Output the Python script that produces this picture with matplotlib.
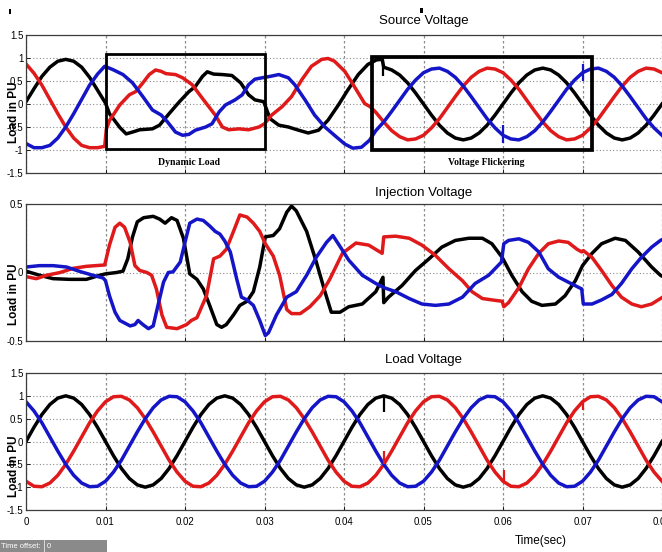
import numpy as np
import matplotlib
matplotlib.use('Agg')
import matplotlib.pyplot as plt
from matplotlib.patches import Rectangle

# ---------------------------------------------------------------
# data (time in s, value in PU)
# ---------------------------------------------------------------
x_ticks = [0, 0.01, 0.02, 0.03, 0.04, 0.05, 0.06, 0.07, 0.08, 0.09, 0.1]
# the last two ticks lie outside the cropped picture
x_tick_labels = ['0', '0.01', '0.02', '0.03', '0.04', '0.05', '0.06', '0.07', '0.08', '', '']
y_ticks_full = [-1.5, -1, -0.5, 0, 0.5, 1, 1.5]
y_labels_full = ['-1.5', '-1', '-0.5', '0', '0.5', '1', '1.5']
y_ticks_inj = [-0.5, 0, 0.5]
y_labels_inj = ['-0.5', '0', '0.5']

titles = ['Source Voltage', 'Injection Voltage', 'Load Voltage']

# samples on the 1 ms grid after the flicker starts (source) / whole load trace
t_tail = np.round(np.arange(0.046, 0.0805, 0.001), 4)
t_load = np.round(np.arange(0.0, 0.0805, 0.001), 4)

# --- Source voltage ---
src_black_t = [0.000, 0.001, 0.002, 0.003, 0.004, 0.005, 0.006, 0.007, 0.008, 0.009, 0.010,
               0.0105, 0.0118, 0.0126, 0.0134, 0.0143, 0.0159, 0.0168, 0.0180, 0.0193, 0.0205,
               0.0213, 0.0222, 0.0228, 0.0236, 0.0247, 0.0259, 0.0270, 0.0280, 0.0288, 0.0299,
               0.0307, 0.0318, 0.0330, 0.0343, 0.0355, 0.0368, 0.0380, 0.0393, 0.0405, 0.0418,
               0.0430, 0.0441, 0.0448, 0.0450] + list(t_tail)
src_black_v = [0.05, 0.33, 0.60, 0.80, 0.93, 0.97, 0.93, 0.80, 0.58, 0.30, 0.02,
               -0.21, -0.51, -0.65, -0.61, -0.56, -0.54, -0.46, -0.21, 0.05, 0.27,
               0.38, 0.60, 0.70, 0.65, 0.64, 0.62, 0.46, 0.20, 0.09, 0.05,
               -0.32, -0.46, -0.50, -0.57, -0.63, -0.57, -0.35, -0.02, 0.31, 0.64,
               0.86, 0.96, 0.97, 0.80,
               0.74, 0.63, 0.46, 0.24, 0.00, -0.24, -0.46, -0.63, -0.74, -0.78,
               -0.74, -0.63, -0.46, -0.24, 0.00, 0.24, 0.46, 0.63, 0.74, 0.78,
               0.74, 0.63, 0.46, 0.24, 0.00, -0.24, -0.46, -0.63, -0.74, -0.78,
               -0.74, -0.63, -0.46, -0.24, 0.00]

src_red_t = [0.000, 0.001, 0.002, 0.003, 0.004, 0.005, 0.006, 0.007, 0.008, 0.009,
             0.0099, 0.0101, 0.0105,
             0.0118, 0.0130, 0.0138, 0.0147, 0.0155, 0.0163, 0.0170, 0.0176, 0.0188, 0.0197,
             0.0209, 0.0222, 0.0230, 0.0238, 0.0247, 0.0255, 0.0268, 0.0280, 0.0293, 0.0300,
             0.0309, 0.0322, 0.0334, 0.0347, 0.0359, 0.0372, 0.0380, 0.0388, 0.0401, 0.0413,
             0.0426, 0.0433, 0.0440, 0.0450] + list(t_tail)
src_red_v = [0.87, 0.67, 0.41, 0.10, -0.21, -0.50, -0.74, -0.90, -0.95, -0.95,
             -0.92, -0.55, -0.36,
             -0.02, 0.20, 0.27, 0.46, 0.64, 0.74, 0.71, 0.66, 0.64, 0.57,
             0.42, 0.12, -0.06, -0.24, -0.50, -0.56, -0.54, -0.56, -0.50, -0.43,
             -0.24, -0.06, 0.16, 0.53, 0.82, 0.97, 0.99, 0.93, 0.71, 0.38,
             0.01, -0.06, -0.18, -0.39,
             -0.58, -0.71, -0.78, -0.76, -0.68, -0.52, -0.32, -0.08, 0.16, 0.39,
             0.58, 0.71, 0.78, 0.76, 0.68, 0.52, 0.32, 0.08, -0.16, -0.39,
             -0.58, -0.71, -0.78, -0.76, -0.68, -0.52, -0.32, -0.08, 0.16, 0.39,
             0.58, 0.71, 0.78, 0.76, 0.68]

src_blue_t = [0.000, 0.001, 0.002, 0.003, 0.004, 0.005, 0.006, 0.007, 0.008, 0.009,
              0.0099, 0.0109, 0.0122, 0.0134, 0.0147, 0.0159, 0.0170, 0.0178, 0.0188, 0.0197,
              0.0205, 0.0213, 0.0226, 0.0234, 0.0243, 0.0251, 0.0263, 0.0272, 0.0280, 0.0288,
              0.0297, 0.0307, 0.0318, 0.0330, 0.0338, 0.0351, 0.0363, 0.0376, 0.0388, 0.0401,
              0.0411, 0.0422, 0.0432, 0.0440, 0.0450] + list(t_tail)
src_blue_v = [-0.86, -0.95, -0.95, -0.90, -0.74, -0.50, -0.21, 0.10, 0.41, 0.65,
              0.82, 0.75, 0.64, 0.46, 0.16, -0.13, -0.24, -0.39, -0.61, -0.68,
              -0.66, -0.57, -0.50, -0.43, -0.17, -0.02, 0.09, 0.20, 0.42, 0.54,
              0.57, 0.60, 0.64, 0.57, 0.42, 0.09, -0.24, -0.50, -0.68, -0.87,
              -0.96, -0.94, -0.79, -0.58, -0.39,
              -0.16, 0.08, 0.32, 0.52, 0.68, 0.76, 0.78, 0.71, 0.58, 0.39,
              0.16, -0.08, -0.32, -0.52, -0.68, -0.76, -0.78, -0.71, -0.58, -0.39,
              -0.16, 0.08, 0.32, 0.52, 0.68, 0.76, 0.78, 0.71, 0.58, 0.39,
              0.16, -0.08, -0.32, -0.52, -0.68]

# short switching spikes on the source side
src_spike_t = [0.0449, 0.0600, 0.0700]
src_spike_lo = [0.60, -0.84, 0.50]
src_spike_hi = [0.97, -0.45, 0.86]
src_spike_phase = ['black', 'blue', 'blue']

# --- Injection voltage ---
inj_black_t = [0.0, 0.0017, 0.0034, 0.0055, 0.0076, 0.0093, 0.0100, 0.0114, 0.0122, 0.0128,
               0.0134, 0.0140, 0.0148, 0.0160, 0.0168, 0.0175, 0.0183, 0.0190, 0.0198, 0.0206,
               0.0215, 0.0223, 0.0231, 0.0240, 0.0246, 0.0252, 0.0261, 0.0269, 0.0278, 0.0286,
               0.0294, 0.0301, 0.0311, 0.0319, 0.0328, 0.0334, 0.0340, 0.0353, 0.0365, 0.0376,
               0.0384, 0.0395, 0.0406, 0.0423, 0.0440, 0.0449, 0.0450, 0.0456, 0.0473, 0.0490,
               0.0507, 0.0523, 0.0540, 0.0557, 0.0574, 0.0586, 0.0599, 0.0611, 0.0624, 0.0636,
               0.0649, 0.0666, 0.0678, 0.0691, 0.0700, 0.0712, 0.0724, 0.0741, 0.0754, 0.0770,
               0.0787, 0.0798, 0.0810]
inj_black_v = [0.01, -0.02, -0.045, -0.05, -0.05, -0.02, -0.01, 0.00, 0.01, 0.10,
               0.26, 0.37, 0.40, 0.41, 0.39, 0.36, 0.40, 0.38, 0.25, -0.01,
               -0.05, -0.12, -0.24, -0.38, -0.40, -0.38, -0.31, -0.24, -0.21, -0.14,
               0.04, 0.26, 0.27, 0.32, 0.44, 0.485, 0.45, 0.30, 0.08, -0.14,
               -0.29, -0.29, -0.25, -0.23, -0.14, -0.035, -0.22, -0.18, -0.095, 0.015,
               0.10, 0.185, 0.234, 0.25, 0.25, 0.21, 0.11, -0.02, -0.14, -0.21,
               -0.24, -0.23, -0.17, -0.06, 0.05, 0.14, 0.21, 0.25, 0.234, 0.15,
               0.04, -0.02, -0.06]

inj_red_t = [0.0, 0.0013, 0.0026, 0.0043, 0.0059, 0.0076, 0.0099, 0.0105, 0.0112, 0.0118,
             0.0124, 0.0131, 0.0137, 0.0143, 0.0152, 0.0158, 0.0164, 0.0171, 0.0177, 0.0190,
             0.0202, 0.0208, 0.0215, 0.0227, 0.0236, 0.0244, 0.0252, 0.0261, 0.0269, 0.0278,
             0.0286, 0.0294, 0.0301, 0.0311, 0.0319, 0.0328, 0.0334, 0.0345, 0.0357, 0.0370,
             0.0382, 0.0398, 0.0415, 0.0431, 0.0448, 0.0450, 0.0465, 0.0482, 0.0498, 0.0515,
             0.0532, 0.0549, 0.0561, 0.0574, 0.0586, 0.0599, 0.0601, 0.0607, 0.0620, 0.0632,
             0.0645, 0.0657, 0.0670, 0.0682, 0.0693, 0.0699, 0.0701, 0.0712, 0.0724, 0.0737,
             0.0749, 0.0762, 0.0774, 0.0787, 0.0798, 0.0810]
inj_red_v = [-0.03, -0.045, -0.02, 0.00, 0.03, 0.045, 0.055, 0.20, 0.33, 0.36,
             0.33, 0.22, 0.05, 0.015, 0.00, -0.02, -0.12, -0.31, -0.40, -0.41,
             -0.38, -0.35, -0.33, -0.17, 0.10, 0.12, 0.17, 0.30, 0.42, 0.405,
             0.36, 0.30, 0.21, 0.12, -0.02, -0.27, -0.30, -0.30, -0.25, -0.17,
             -0.05, 0.14, 0.215, 0.20, 0.14, 0.26, 0.265, 0.25, 0.20, 0.125,
             0.027, -0.06, -0.14, -0.19, -0.20, -0.21, -0.25, -0.22, -0.11, 0.027,
             0.14, 0.21, 0.23, 0.22, 0.17, 0.15, 0.16, 0.11, 0.015, -0.095,
             -0.18, -0.23, -0.25, -0.23, -0.19, -0.15]

inj_blue_t = [0.0, 0.0017, 0.0034, 0.0051, 0.0068, 0.0084, 0.0097, 0.0100, 0.0105, 0.0112,
              0.0118, 0.0131, 0.0137, 0.0141, 0.0147, 0.0154, 0.0160, 0.0166, 0.0173, 0.0179,
              0.0185, 0.0194, 0.0200, 0.0206, 0.0215, 0.0223, 0.0231, 0.0238, 0.0244, 0.0250,
              0.0257, 0.0265, 0.0271, 0.0278, 0.0286, 0.0294, 0.0301, 0.0305, 0.0315, 0.0328,
              0.0340, 0.0353, 0.0365, 0.0378, 0.0386, 0.0395, 0.0406, 0.0423, 0.0440, 0.0450,
              0.0465, 0.0482, 0.0498, 0.0515, 0.0532, 0.0549, 0.0565, 0.0582, 0.0598, 0.0601,
              0.0607, 0.0620, 0.0632, 0.0645, 0.0657, 0.0670, 0.0682, 0.0699, 0.0701, 0.0712,
              0.0724, 0.0737, 0.0749, 0.0762, 0.0774, 0.0787, 0.0798, 0.0810]
inj_blue_v = [0.04, 0.05, 0.05, 0.04, 0.007, -0.02, -0.04, -0.06, -0.17, -0.29,
              -0.35, -0.39, -0.38, -0.35, -0.38, -0.41, -0.39, -0.24, -0.07, 0.00,
              0.005, 0.076, 0.22, 0.36, 0.39, 0.38, 0.34, 0.30, 0.28, 0.23,
              0.15, -0.046, -0.18, -0.20, -0.24, -0.35, -0.46, -0.44, -0.31, -0.18,
              -0.14, -0.02, 0.11, 0.22, 0.27, 0.19, 0.09, -0.02, -0.08, -0.11,
              -0.14, -0.19, -0.23, -0.24, -0.23, -0.18, -0.08, -0.02, 0.076, 0.21,
              0.234, 0.246, 0.22, 0.15, 0.027, -0.034, -0.07, -0.12, -0.23, -0.23,
              -0.20, -0.16, -0.08, 0.027, 0.11, 0.185, 0.234, 0.27]

# --- Load voltage (1 ms samples) ---
load_black = [0.00, 0.31, 0.59, 0.81, 0.95, 1.00, 0.95, 0.81, 0.59, 0.31,
              0.00, -0.31, -0.59, -0.81, -0.95, -1.00, -0.95, -0.81, -0.59, -0.31,
              0.00, 0.31, 0.59, 0.81, 0.95, 1.00, 0.95, 0.81, 0.59, 0.31,
              0.00, -0.31, -0.59, -0.81, -0.95, -1.00, -0.95, -0.81, -0.59, -0.31,
              0.00, 0.31, 0.59, 0.81, 0.95, 1.00, 0.95, 0.81, 0.59, 0.31,
              0.00, -0.31, -0.59, -0.81, -0.95, -1.00, -0.95, -0.81, -0.59, -0.31,
              0.00, 0.31, 0.59, 0.81, 0.95, 1.00, 0.95, 0.81, 0.59, 0.31,
              0.00, -0.31, -0.59, -0.81, -0.95, -1.00, -0.95, -0.81, -0.59, -0.31,
              0.00]
load_red = [-0.87, -0.98, -0.99, -0.91, -0.74, -0.50, -0.21, 0.10, 0.41, 0.67,
            0.87, 0.98, 0.99, 0.91, 0.74, 0.50, 0.21, -0.10, -0.41, -0.67,
            -0.87, -0.98, -0.99, -0.91, -0.74, -0.50, -0.21, 0.10, 0.41, 0.67,
            0.87, 0.98, 0.99, 0.91, 0.74, 0.50, 0.21, -0.10, -0.41, -0.67,
            -0.87, -0.98, -0.99, -0.91, -0.74, -0.50, -0.21, 0.10, 0.41, 0.67,
            0.87, 0.98, 0.99, 0.91, 0.74, 0.50, 0.21, -0.10, -0.41, -0.67,
            -0.87, -0.98, -0.99, -0.91, -0.74, -0.50, -0.21, 0.10, 0.41, 0.67,
            0.87, 0.98, 0.99, 0.91, 0.74, 0.50, 0.21, -0.10, -0.41, -0.67,
            -0.87]
load_blue = [0.87, 0.67, 0.41, 0.10, -0.21, -0.50, -0.74, -0.91, -0.99, -0.98,
             -0.87, -0.67, -0.41, -0.10, 0.21, 0.50, 0.74, 0.91, 0.99, 0.98,
             0.87, 0.67, 0.41, 0.10, -0.21, -0.50, -0.74, -0.91, -0.99, -0.98,
             -0.87, -0.67, -0.41, -0.10, 0.21, 0.50, 0.74, 0.91, 0.99, 0.98,
             0.87, 0.67, 0.41, 0.10, -0.21, -0.50, -0.74, -0.91, -0.99, -0.98,
             -0.87, -0.67, -0.41, -0.10, 0.21, 0.50, 0.74, 0.91, 0.99, 0.98,
             0.87, 0.67, 0.41, 0.10, -0.21, -0.50, -0.74, -0.91, -0.99, -0.98,
             -0.87, -0.67, -0.41, -0.10, 0.21, 0.50, 0.74, 0.91, 0.99, 0.98,
             0.87]

load_spike_t = [0.0450, 0.0450, 0.0601, 0.0701]
load_spike_lo = [0.65, -0.50, -0.87, 0.70]
load_spike_hi = [0.99, -0.20, -0.63, 0.89]
load_spike_phase = ['black', 'red', 'red', 'red']

# boxes in the source panel: (t_start, t_end, v_low, v_high, text)
box_dyn = (0.0100, 0.0300, -0.985, 1.087, 'Dynamic Load')
box_flk = (0.0435, 0.0712, -1.0, 1.015, 'Voltage Flickering')

# ---------------------------------------------------------------
# drawing
# ---------------------------------------------------------------
colors = {'black': '#000000', 'red': '#e01a1a', 'blue': '#1515c8'}
sans = ['Liberation Sans', 'DejaVu Sans']
LW = 2.5
W, H = 662, 552

fig = plt.figure(figsize=(W / 100, H / 100), dpi=100)


def panel(top_px, bot_px):
    # the scope window was 0..0.1 s wide, the picture is cropped at 0.08
    return fig.add_axes([26 / W, 1 - bot_px / H, 795 / W, (bot_px - top_px) / H])


ax1 = panel(35, 173)
ax2 = panel(204, 341)
ax3 = panel(373, 510)

# source
ax1.plot(src_black_t, src_black_v, color=colors['black'], lw=LW)
ax1.plot(src_red_t, src_red_v, color=colors['red'], lw=LW)
ax1.plot(src_blue_t, src_blue_v, color=colors['blue'], lw=LW)
for t, lo, hi, ph in zip(src_spike_t, src_spike_lo, src_spike_hi, src_spike_phase):
    ax1.vlines(t, lo, hi, color=colors[ph], lw=1.6)

for (t0, t1, v0, v1, txt), lw in zip([box_dyn, box_flk], [2.0, 2.7]):
    ax1.add_patch(Rectangle((t0, v0), t1 - t0, v1 - v0, fill=False,
                            edgecolor='black', lw=lw, zorder=5))
    ax1.text((t0 + t1) / 2 + 0.0005, -1.28, txt, ha='center', va='center',
             fontsize=7, fontweight='bold', family=['Liberation Serif', 'DejaVu Serif'])

# injection
ax2.plot(inj_black_t, inj_black_v, color=colors['black'], lw=LW)
ax2.plot(inj_red_t, inj_red_v, color=colors['red'], lw=LW)
ax2.plot(inj_blue_t, inj_blue_v, color=colors['blue'], lw=LW)

# load
ax3.plot(t_load, load_black, color=colors['black'], lw=LW)
ax3.plot(t_load, load_red, color=colors['red'], lw=LW)
ax3.plot(t_load, load_blue, color=colors['blue'], lw=LW)
for t, lo, hi, ph in zip(load_spike_t, load_spike_lo, load_spike_hi, load_spike_phase):
    ax3.vlines(t, lo, hi, color=colors[ph], lw=1.6)

# axes styling (scope look)
for ax, title, yt, yl, lab_y, pad in [(ax1, titles[0], y_ticks_full, y_labels_full, 0.44, 8),
                                       (ax2, titles[1], y_ticks_inj, y_labels_inj, 0.34, 6),
                                       (ax3, titles[2], y_ticks_full, y_labels_full, 0.32, 7)]:
    ax.set_xlim(0, 0.1)
    ax.set_ylim(yt[0], yt[-1])
    ax.set_xticks(x_ticks)
    ax.set_xticklabels(x_tick_labels, family=sans, fontsize=7)
    ax.set_yticks(yt)
    ax.set_yticklabels(yl, family=sans, fontsize=7)
    ax.xaxis.grid(True, linestyle=(0, (2, 2)), color='#8c8c8c', lw=0.9)
    ax.yaxis.grid(True, linestyle=(0, (1, 2)), color='#8c8c8c', lw=0.8)
    ax.set_axisbelow(True)
    ax.tick_params(direction='in', length=3, width=0.6, pad=2)
    ax.tick_params(axis='x', pad=5)
    for s in ax.spines.values():
        s.set_color('#3c3c3c')
        s.set_linewidth(0.9)
    ax.set_title(title, family=sans, fontsize=9.5, pad=pad)
    ax.set_ylabel('Load in PU', fontsize=8.5, fontweight='bold', family=sans, va='center')
    ax.yaxis.set_label_coords((14 - 26) / 795, lab_y)

ax1.tick_params(axis='x', labelbottom=False)
ax2.tick_params(axis='x', labelbottom=False)
ax3.set_xlabel('Time(sec)', family=sans, fontsize=8.5, va='center')
ax3.xaxis.set_label_coords((541 - 26) / 795, -(541 - 510) / 137)

# scope status bar + stray marks from the screenshot
fig.patches.append(Rectangle((0, 1 - 552 / H), 107 / W, 12 / H, transform=fig.transFigure,
                             facecolor='#8a8a8a', edgecolor='none'))
fig.patches.append(Rectangle((44 / W, 1 - 552 / H), 1 / W, 12 / H, transform=fig.transFigure,
                             facecolor='#d8d8d8', edgecolor='none'))
fig.text(1 / W, 1 - 546 / H, 'Time offset:', color='white', fontsize=5.5, family=sans,
         ha='left', va='center')
fig.text(47 / W, 1 - 546 / H, '0', color='white', fontsize=5.5, family=sans,
         ha='left', va='center')
fig.patches.append(Rectangle((9 / W, 1 - 14 / H), 2 / W, 5 / H, transform=fig.transFigure,
                             facecolor='black', edgecolor='none'))
fig.patches.append(Rectangle((420 / W, 1 - 13 / H), 3 / W, 5 / H, transform=fig.transFigure,
                             facecolor='black', edgecolor='none'))

fig.savefig('out.png', dpi=100)
